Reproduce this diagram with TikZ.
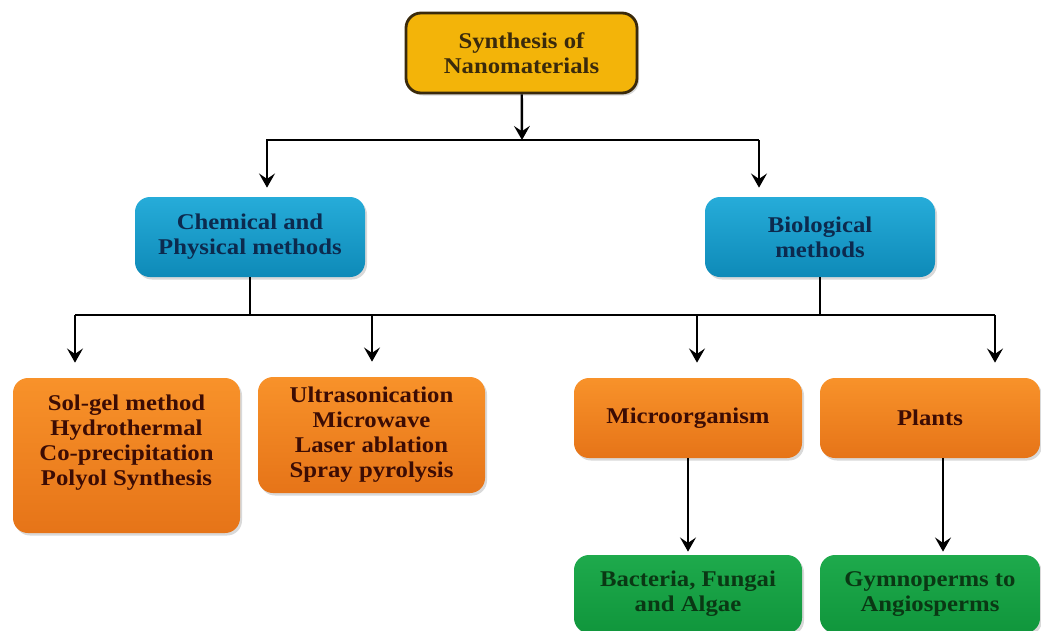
\documentclass[tikz,border=0pt]{standalone}
\usepackage{fontspec}
\setmainfont{Liberation Serif}[FakeStretch=1.1]
\usetikzlibrary{shapes,arrows.meta,shadows}
\definecolor{NanoGold}{RGB}{243,180,9}
\definecolor{NanoBrown}{RGB}{58,42,12}
\definecolor{MethTop}{RGB}{38,172,217}
\definecolor{MethBot}{RGB}{14,138,184}
\definecolor{MethText}{RGB}{12,42,78}
\definecolor{SubTop}{RGB}{248,146,42}
\definecolor{SubBot}{RGB}{230,116,24}
\definecolor{SubText}{RGB}{60,12,4}
\definecolor{LeafTop}{RGB}{30,170,76}
\definecolor{LeafBot}{RGB}{16,150,60}
\definecolor{LeafText}{RGB}{10,56,20}

\begin{document}
\begin{tikzpicture}
				\tikzstyle{box}=[shape=rectangle, rounded corners=0.3cm, inner sep=0pt, align=center, font=\fontsize{12.8}{14.2}\selectfont\bfseries, drop shadow={opacity=0.3, shadow xshift=0.04cm, shadow yshift=-0.05cm}];
				\tikzstyle{topbox}=[box, fill=NanoGold, draw=NanoBrown, line width=1.6pt, text=NanoBrown];
				\tikzstyle{methbox}=[box, top color=MethTop, bottom color=MethBot, text=MethText];
				\tikzstyle{subbox}=[box, top color=SubTop, bottom color=SubBot, text=SubText];
				\tikzstyle{leafbox}=[box, top color=LeafTop, bottom color=LeafBot, text=LeafText];
				\tikzstyle{boxtext}=[align=center, font=\fontsize{12.8}{14.2}\selectfont\bfseries, text=SubText];
				\tikzstyle{line}=[draw, line width=1.4pt];
				\tikzstyle{arrow}=[line, -{Stealth[length=8pt, width=9pt, inset=3pt]}];
				\useasboundingbox (0,0) rectangle (20.82,-12.6);
				\node [topbox, minimum width=4.62cm, minimum height=1.6cm] (synth) at (10.43,-1.06) {Synthesis of\\Nanomaterials};
				\node [methbox, minimum width=4.6cm, minimum height=1.6cm] (chem) at (5.0,-4.74) {Chemical and\\Physical methods};
				\node [methbox, minimum width=4.6cm, minimum height=1.6cm] (bio) at (16.4,-4.74) {Biological\\methods};
				\coordinate (h0) at (10.44,-2.8);
				\coordinate (h1) at (5.34,-2.8);
				\coordinate (h2) at (15.18,-2.8);
				\draw[arrow] (synth) -- (h0);
				\draw[arrow, shorten >=0.18cm] (h2) -- (h1) -- (h1 |- chem.north);
				\draw[arrow, shorten >=0.18cm] (h2) -- (h2 |- bio.north);
				\node [subbox, minimum width=4.54cm, minimum height=3.1cm] (solgel) at (2.53,-9.11) {};
				\node [boxtext] (solgeltext) at (2.53,-8.86) {Sol-gel method\\Hydrothermal\\Co-precipitation\\Polyol Synthesis};
				\node [subbox, minimum width=4.54cm, minimum height=2.32cm] (ultra) at (7.43,-8.70) {Ultrasonication\\Microwave\\Laser ablation\\Spray pyrolysis};
				\node [subbox, minimum width=4.56cm, minimum height=1.6cm] (micro) at (13.76,-8.36) {Microorganism};
				\node [subbox, minimum width=4.4cm, minimum height=1.6cm] (plants) at (18.6,-8.36) {Plants};
				\coordinate (c1) at (1.5,-6.3);
				\coordinate (c2) at (7.44,-6.3);
				\coordinate (c3) at (13.94,-6.3);
				\coordinate (c4) at (19.9,-6.3);
				\draw[line] (chem) -- (chem |- c1);
				\draw[line] (bio) -- (bio |- c1);
				\draw[line] (c1) -- (c4);
				\draw[arrow, shorten >=0.3cm] (c1) -- (c1 |- solgel.north);
				\draw[arrow, shorten >=0.3cm] (c2) -- (c2 |- ultra.north);
				\draw[arrow, shorten >=0.3cm] (c3) -- (c3 |- micro.north);
				\draw[arrow, shorten >=0.3cm] (c4) -- (c4 |- plants.north);
				\node [leafbox, minimum width=4.56cm, minimum height=1.56cm] (bact) at (13.76,-11.88) {Bacteria, Fungai\\and Algae};
				\node [leafbox, minimum width=4.4cm, minimum height=1.56cm] (gymno) at (18.6,-11.88) {Gymnoperms to\\Angiosperms};
				\draw[arrow, shorten >=0.06cm] (micro) -- (bact);
				\draw[arrow, shorten >=0.06cm] ([xshift=0.26cm]plants.south) -- ([xshift=0.26cm]gymno.north);
			\end{tikzpicture}
\end{document}
